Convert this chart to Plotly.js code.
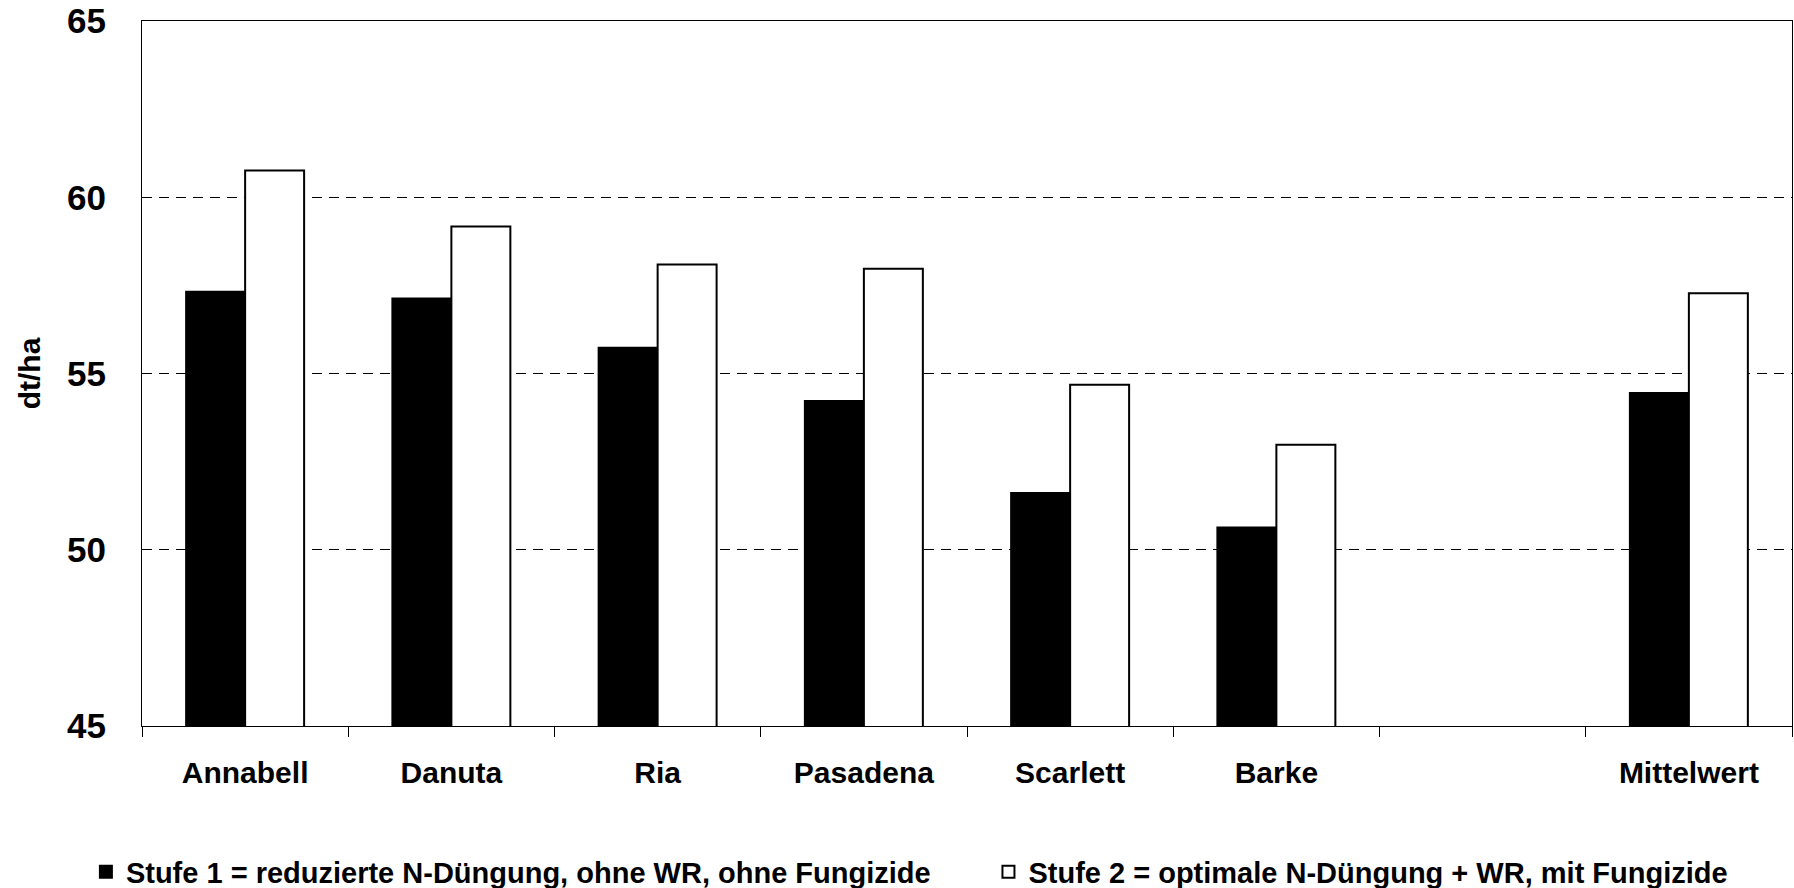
<!DOCTYPE html>
<html>
<head>
<meta charset="utf-8">
<script src="https://cdn.plot.ly/plotly-3.0.1.min.js"></script>
<style>html,body{margin:0;padding:0;background:#fff;}#chart{width:1794px;height:888px;}</style>
</head>
<body>
<div id="chart"></div>
<script>
const categories = ["Annabell", "Danuta", "Ria", "Pasadena", "Scarlett", "Barke", " ", "Mittelwert"];
const stufe1 = [57.32, 57.13, 55.73, 54.22, 51.61, 50.63, null, 54.45];
const stufe2 = [60.76, 59.17, 58.09, 57.97, 54.68, 52.98, null, 57.28];
const name1 = "Stufe 1 = reduzierte N-Düngung, ohne WR, ohne Fungizide";
const name2 = "Stufe 2 = optimale N-Düngung + WR, mit Fungizide";
const yTicks = [45, 50, 55, 60, 65];

const FONT = "'Liberation Sans', Arial, sans-serif";
const legFont = {family: FONT, size: 29, weight: "bold", color: "#000"};

const traces = [
  {type: "bar", name: name1, x: categories, y: stufe1, legend: "legend",
   marker: {color: "#000000", line: {color: "#000000", width: 2}}, hoverinfo: "y"},
  {type: "bar", name: name2, x: categories, y: stufe2, legend: "legend2",
   marker: {color: "#ffffff", line: {color: "#000000", width: 2}}, hoverinfo: "y"}
];

const layout = {
  width: 1794, height: 888,
  margin: {l: 142, r: 2, t: 21, b: 162, autoexpand: false},
  paper_bgcolor: "#ffffff", plot_bgcolor: "#ffffff",
  font: {family: FONT, color: "#000000", weight: "bold"},
  barmode: "group", bargap: 0.428, bargroupgap: 0,
  showlegend: true,
  legend: {orientation: "h", x: -0.034, xanchor: "left", y: -0.207, yanchor: "middle",
           font: legFont, bgcolor: "rgba(0,0,0,0)"},
  legend2: {orientation: "h", x: 0.513, xanchor: "left", y: -0.207, yanchor: "middle",
           font: legFont, bgcolor: "rgba(0,0,0,0)"},
  xaxis: {type: "category", categoryorder: "array", categoryarray: categories,
          tickson: "boundaries", ticks: "outside", ticklen: 10, tickcolor: "#000", tickwidth: 1,
          showline: true, linecolor: "#000", linewidth: 1, mirror: true,
          showgrid: false, ticklabelstandoff: 20,
          tickfont: {family: FONT, size: 30, weight: "bold", color: "#000"}},
  yaxis: {range: [45, 65], tickvals: yTicks, ticktext: yTicks.map(String),
          ticks: "", showline: true, linecolor: "#000", linewidth: 1, mirror: true,
          showgrid: true, gridcolor: "#000", gridwidth: 1, griddash: "10px,7px",
          zeroline: false, ticklabelstandoff: 28,
          tickfont: {family: FONT, size: 35, weight: "bold", color: "#000"},
          title: {text: "dt/ha", standoff: 17, font: {family: FONT, size: 30, weight: "bold", color: "#000"}}}
};

Plotly.newPlot("chart", traces, layout, {displayModeBar: false, staticPlot: true});
</script>
</body>
</html>
